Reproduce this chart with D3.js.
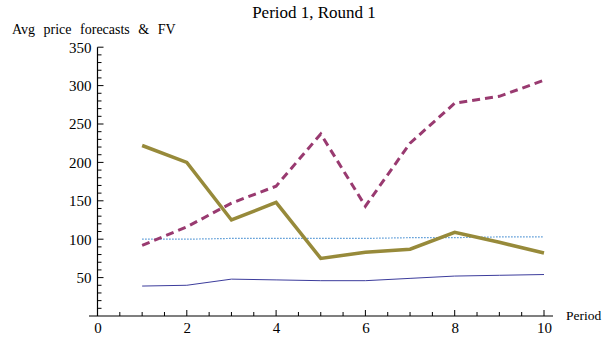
<!DOCTYPE html>
<html>
<head>
<meta charset="utf-8">
<script src="https://cdn.jsdelivr.net/npm/d3@7"></script>
<style>
  body { margin: 0; background: #fff; }
</style>
</head>
<body>
<script>
// chart size
const WIDTH  = 602;
const HEIGHT = 338;
const FONT = 'Liberation Serif';

// data
const periods    = [1, 2, 3, 4, 5, 6, 7, 8, 9, 10];
const olive      = [222, 200, 125, 148, 75, 83, 87, 109, 96, 82];
const dashed     = [92, 116, 147, 169, 237, 143, 225, 277, 286, 307];
const fv         = [100, 100, 101, 101, 101, 101, 102, 102, 103, 103];
const lowLine    = [39, 40, 48, 47, 46, 46, 49, 52, 53, 54];
const xTicks     = [0, 2, 4, 6, 8, 10];
const yTicks     = [50, 100, 150, 200, 250, 300, 350];

let x = d3.scaleLinear().domain([0, 10]).range([97.5, 544]);
let y = d3.scaleLinear().domain([0, 350]).range([316, 47.2]);

let svg = d3.select('body').append('svg')
    .attr('width', WIDTH)
    .attr('height', HEIGHT);

// axes (labels only, lines and ticks drawn below)
let xAxis = d3.axisBottom(x).tickValues(xTicks).tickSize(0).tickPadding(6);
let gx = svg.append('g').attr('transform', `translate(0,${y(0)})`).call(xAxis)
    .attr('font-family', FONT).attr('font-size', 15);
gx.select('.domain').remove();
gx.selectAll('text').attr('fill', '#000');

let yAxis = d3.axisLeft(y).tickValues(yTicks).tickSize(0).tickPadding(6);
let gy = svg.append('g').attr('transform', `translate(${x(0)},0)`).call(yAxis)
    .attr('font-family', FONT).attr('font-size', 15);
gy.select('.domain').remove();
gy.selectAll('text').attr('fill', '#000');

// axis lines
svg.append('line')
    .attr('x1', 89).attr('x2', 553)
    .attr('y1', y(0)).attr('y2', y(0))
    .attr('stroke', '#000').attr('stroke-width', 1.2);
svg.append('line')
    .attr('x1', x(0)).attr('x2', x(0))
    .attr('y1', y(0)).attr('y2', y(350))
    .attr('stroke', '#000').attr('stroke-width', 1.2);

// ticks pointing inward (majors longer)
for (let v = 0.5; v <= 10; v += 0.5) {
    let major = v % 2 === 0;
    svg.append('line')
        .attr('x1', x(v)).attr('x2', x(v))
        .attr('y1', y(0)).attr('y2', y(0) - (major ? 6 : 4))
        .attr('stroke', '#000').attr('stroke-width', 1);
}
for (let v = 10; v <= 350; v += 10) {
    let major = v % 50 === 0;
    svg.append('line')
        .attr('x1', x(0)).attr('x2', x(0) + (major ? 6 : 4))
        .attr('y1', y(v)).attr('y2', y(v))
        .attr('stroke', '#000').attr('stroke-width', 1);
}

// lines
const series = [
    { vals: fv,      color: '#4f94d4', width: 1.2, dash: '1.5,1.5' },
    { vals: lowLine, color: '#3c3c9c', width: 1,   dash: null },
    { vals: dashed,  color: '#993a70', width: 3,   dash: '8,5' },
    { vals: olive,   color: '#978a3a', width: 3.5, dash: null }
];

let line = d3.line()
    .x((d, i) => x(periods[i]))
    .y(d => y(d));

series.forEach(s => {
    svg.append('path')
        .datum(s.vals)
        .attr('d', line)
        .attr('fill', 'none')
        .attr('stroke', s.color)
        .attr('stroke-width', s.width)
        .attr('stroke-dasharray', s.dash);
});

// labels
svg.append('text')
    .attr('x', 314).attr('y', 18)
    .attr('text-anchor', 'middle')
    .attr('font-family', FONT)
    .attr('font-size', 17)
    .text('Period 1, Round 1');

svg.append('text')
    .attr('x', 12).attr('y', 34)
    .attr('font-family', FONT)
    .attr('font-size', 14)
    .attr('word-spacing', 5)
    .text('Avg price forecasts & FV');

svg.append('text')
    .attr('x', 566).attr('y', 320)
    .attr('font-family', FONT)
    .attr('font-size', 13.5)
    .text('Period');
</script>
</body>
</html>
